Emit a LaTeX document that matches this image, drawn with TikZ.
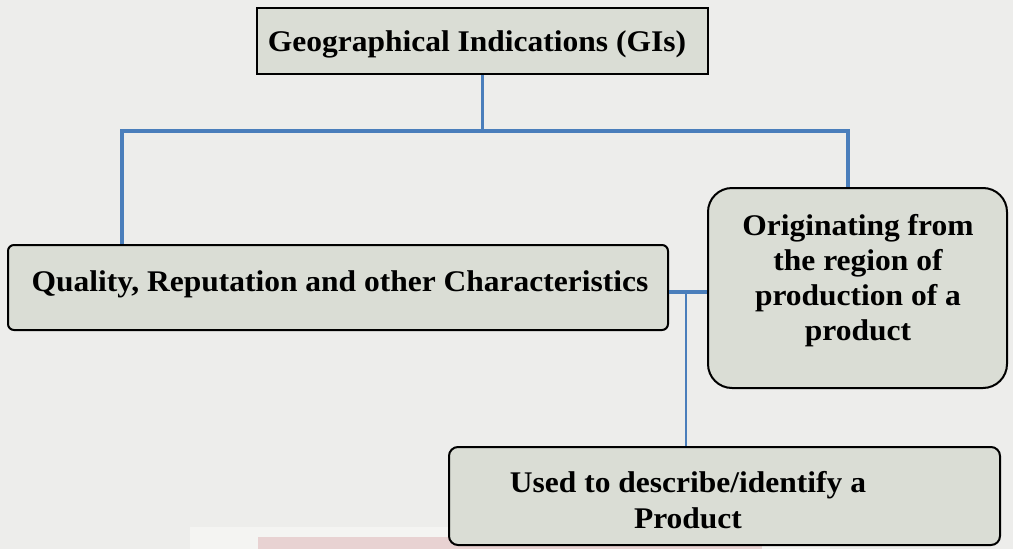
\documentclass[tikz,border=0pt]{standalone}
\usepackage{fontspec}
\setmainfont{Liberation Serif}[FakeStretch=1.05]
\definecolor{paper}{HTML}{EDEDEB}
\definecolor{boxfill}{HTML}{DADDD5}
\definecolor{linkblue}{HTML}{4A7EBB}
\definecolor{bandwhite}{HTML}{F4F4F2}
\definecolor{bandpink}{HTML}{E8D2D2}
\tikzset{
  boxbase/.style={draw=black, line width=2pt, fill=boxfill, inner sep=0pt},
  sharpbox/.style={boxbase},
  roundbox/.style={boxbase, rounded corners=#1},
  boxtext/.style={inner sep=0pt, align=center, anchor=base,
    font=\fontsize{30}{#1}\selectfont\bfseries},
  conn/.style={draw=linkblue, line width=3.8pt},
  thinconn/.style={draw=linkblue, line width=2.2pt}
}
\begin{document}
\begin{tikzpicture}[x=1pt, y=-1pt]
  % page and canvas
  \useasboundingbox (0,0) rectangle (1013,549);
  \fill[paper] (0,0) rectangle (1013,549);
  \fill[bandwhite] (190,527) rectangle (830,549);
  \fill[bandpink] (258,537) rectangle (762,549);

  % boxes
  \node[sharpbox, minimum width=451pt, minimum height=66pt] (gi) at (482.5,41) {};
  \node[boxtext=35] (gitext) at (477,51) {Geographical Indications (GIs)};

  \node[roundbox=6pt, minimum width=660pt, minimum height=85pt] (qual) at (338,287.5) {};
  \node[boxtext=35] (qualtext) at (340,291)
    {Quality, Reputation and other Characteristics};

  \node[roundbox=24pt, minimum width=299pt, minimum height=200pt] (orig) at (857.5,288) {};
  \node[boxtext=35] (origtext) at (858,340)
    {Originating from\\the region of\\production of a\\product};

  \node[roundbox=9pt, minimum width=551pt, minimum height=98pt] (used) at (724.5,496) {};
  \node[boxtext=36] (usedtext) at (688,528)
    {Used to describe/identify a\\Product};

  % tree connectors
  \coordinate (busL) at (122,131);
  \coordinate (busR) at (848,131);
  \coordinate (cross) at (686,292);
  \draw[conn] (gi.south) -- (gi.south |- busL);
  \draw[conn] ([xshift=-1.9pt]busL) -- ([xshift=1.9pt]busR);
  \draw[conn] (busL) -- (busL |- qual.north);
  \draw[conn] (busR) -- (busR |- orig.north);
  \draw[conn] (cross -| qual.east) -- (cross -| orig.west);
  \draw[thinconn] (cross) -- (cross |- used.north);
\end{tikzpicture}
\end{document}
